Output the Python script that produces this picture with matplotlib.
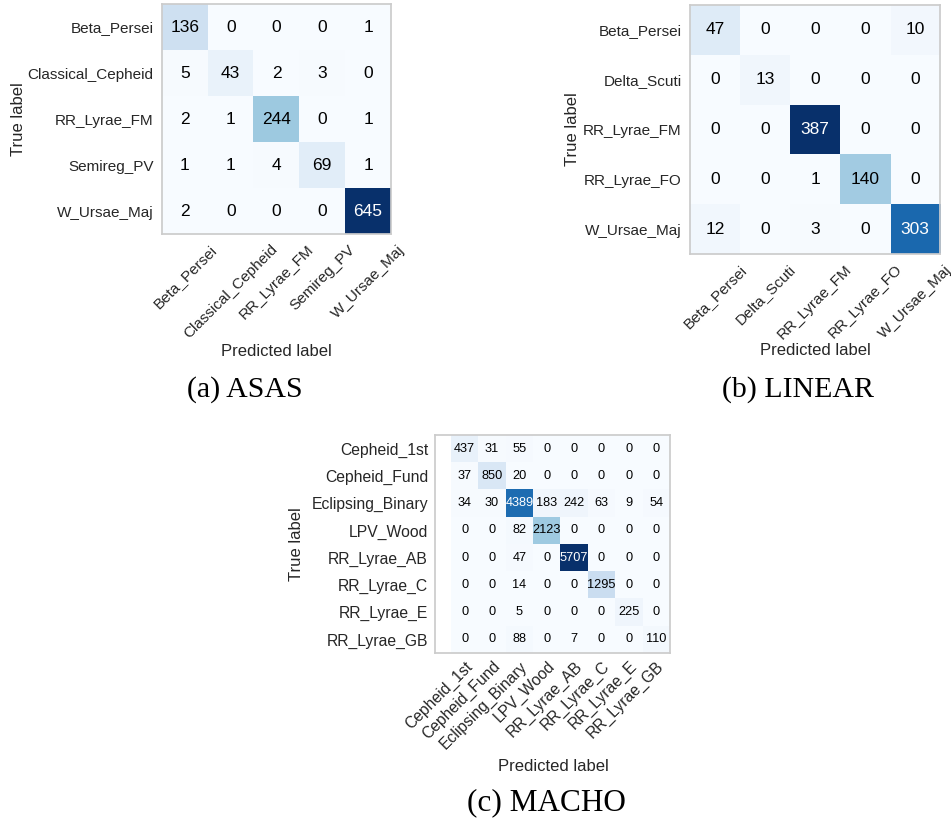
import numpy as np
import matplotlib
matplotlib.use("Agg")
import matplotlib.pyplot as plt

plt.rcParams['font.family'] = ['Liberation Sans', 'DejaVu Sans']

# ---------------- data ----------------
asas_classes = ["Beta_Persei", "Classical_Cepheid", "RR_Lyrae_FM", "Semireg_PV", "W_Ursae_Maj"]
asas_cm = [
    [136, 0, 0, 0, 1],
    [5, 43, 2, 3, 0],
    [2, 1, 244, 0, 1],
    [1, 1, 4, 69, 1],
    [2, 0, 0, 0, 645],
]

linear_classes = ["Beta_Persei", "Delta_Scuti", "RR_Lyrae_FM", "RR_Lyrae_FO", "W_Ursae_Maj"]
linear_cm = [
    [47, 0, 0, 0, 10],
    [0, 13, 0, 0, 0],
    [0, 0, 387, 0, 0],
    [0, 0, 1, 140, 0],
    [12, 0, 3, 0, 303],
]

macho_classes = ["Cepheid_1st", "Cepheid_Fund", "Eclipsing_Binary", "LPV_Wood",
                 "RR_Lyrae_AB", "RR_Lyrae_C", "RR_Lyrae_E", "RR_Lyrae_GB"]
macho_cm = [
    [437, 31, 55, 0, 0, 0, 0, 0],
    [37, 850, 20, 0, 0, 0, 0, 0],
    [34, 30, 4389, 183, 242, 63, 9, 54],
    [0, 0, 82, 2123, 0, 0, 0, 0],
    [0, 0, 47, 0, 5707, 0, 0, 0],
    [0, 0, 14, 0, 0, 1295, 0, 0],
    [0, 0, 5, 0, 0, 0, 225, 0],
    [0, 0, 88, 0, 7, 0, 0, 110],
]

captions = ["(a) ASAS", "(b) LINEAR", "(c) MACHO"]

W, H = 951, 827
fig = plt.figure(figsize=(W / 100, H / 100), dpi=100)


def px_axes(l, t, r, b):
    return fig.add_axes([l / W, 1 - b / H, (r - l) / W, (b - t) / H])


def draw_cm(ax, cm, classes, num_size, tick_size=11, xlim_left=None, anchor=False):
    cm = np.array(cm)
    n = len(classes)
    ax.imshow(cm, interpolation='nearest', cmap='Blues', vmin=0, vmax=cm.max(),
              aspect='auto')
    ax.set_xticks(np.arange(n))
    ax.set_yticks(np.arange(n))
    if anchor:
        ax.set_xticklabels(classes, rotation=45, ha='right', rotation_mode='anchor',
                           fontsize=tick_size, color='#262626')
    else:
        ax.set_xticklabels(classes, rotation=45, ha='center',
                           fontsize=tick_size, color='#262626')
    ax.set_yticklabels(classes, fontsize=tick_size, color='#262626')
    ax.tick_params(length=0, pad=6)
    thresh = cm.max() / 2.0
    for i in range(n):
        for j in range(n):
            ax.text(j, i, format(cm[i, j], 'd'), ha='center', va='center',
                    fontsize=num_size,
                    color='white' if cm[i, j] > thresh else 'black')
    if xlim_left is not None:
        ax.set_xlim(xlim_left, n - 0.5)
    else:
        ax.set_xlim(-0.5, n - 0.5)
    ax.set_ylim(n - 0.5, -0.5)
    for s in ax.spines.values():
        s.set_color('#cccccc')
        s.set_linewidth(1.25)
    ax.grid(False)
    ax.set_xlabel('Predicted label', fontsize=12, color='#262626')
    ax.set_ylabel('True label', fontsize=12, color='#262626')


# ASAS
ax1 = px_axes(162, 4, 391, 234)
draw_cm(ax1, asas_cm, asas_classes, 12.5)
ax1.xaxis.set_label_coords(0.5, -(344 - 234) / 230)
ax1.yaxis.set_label_coords(-(162 - 26) / 229, 0.5)

# LINEAR
ax2 = px_axes(690, 5, 940, 254)
draw_cm(ax2, linear_cm, linear_classes, 12.5)
ax2.xaxis.set_label_coords(0.5, -(343 - 254) / 249)
ax2.yaxis.set_label_coords(-(690 - 580) / 250, 0.5)

# MACHO
ax3 = px_axes(435, 435, 670, 653)
cell = (670 - 451) / 8
draw_cm(ax3, macho_cm, macho_classes, 9.2, tick_size=11.3,
        xlim_left=-0.5 - (451 - 435) / cell, anchor=True)
ax3.tick_params(axis='y', pad=5)
ax3.tick_params(axis='x', pad=4)
ax3.xaxis.set_label_coords((553 - 435) / 235, -(759 - 653) / 218)
ax3.yaxis.set_label_coords(-(435 - 304) / 235, 0.5)

# captions
fig.text(245 / W, 1 - 390 / H, captions[0], ha='center', va='center',
         family='Liberation Serif', fontsize=21.5)
fig.text(798 / W, 1 - 390 / H, captions[1], ha='center', va='center',
         family='Liberation Serif', fontsize=21.5)
fig.text(546 / W, 1 - 803 / H, captions[2], ha='center', va='center',
         family='Liberation Serif', fontsize=22.5)

fig.savefig('out.png', dpi=100, facecolor='white')
